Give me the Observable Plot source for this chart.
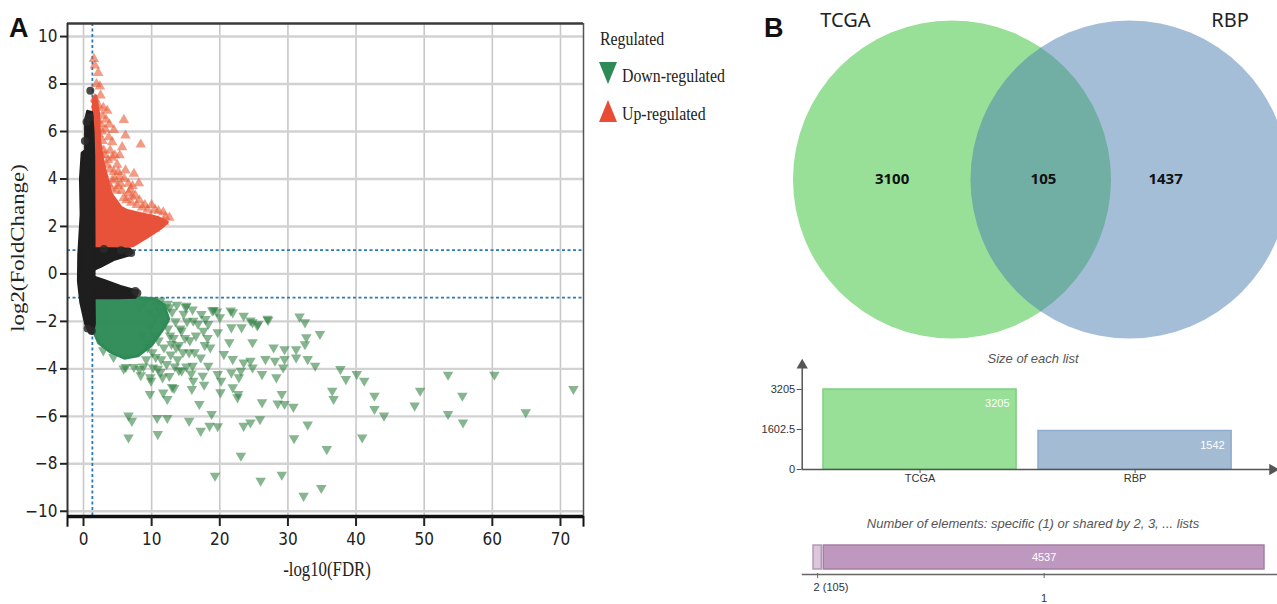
<!DOCTYPE html>
<html><head><meta charset="utf-8">
<script src="https://cdn.jsdelivr.net/npm/d3@7"></script>
<script src="https://cdn.jsdelivr.net/npm/@observablehq/plot@0.6"></script>
<style>
body{margin:0;background:#fff;}
#root{position:relative;width:1277px;height:604px;overflow:hidden;background:#fff;}
.abs{position:absolute;white-space:nowrap;}
</style></head><body><div id="root"></div>
<script>
// ---------------- DATA ----------------
// Panel A: volcano plot
const xTicks = [0,10,20,30,40,50,60,70];
const yTicks = [-10,-8,-6,-4,-2,0,2,4,6,8,10];
const fdrCut = [1.3];
const fcCut = [1,-1];
const regulatedLabels = ["Down-regulated","Up-regulated"];

// dense (overplotted) cores, outlines [-log10FDR, log2FC]
const nsColumn = [[-0.2,5.1],[0.3,5.2],[0.3,6.5],[0.6,6.85],[1.2,6.8],[1.4,6.0],[1.5,5.0],[1.55,1.0],[1.55,-1.0],[1.6,-2.1],[1.3,-2.5],[0.9,-2.45],[0.3,-2.1],[-0.4,-1.2],[-0.75,-0.3],[-0.7,0.8],[-0.35,2.5],[-0.45,4.0]];
const nsUpperWedge = [[0.8,0.1],[2.5,0.32],[4.4,0.6],[6.5,0.78],[7.15,0.9],[6.8,1.04],[4,1.06],[1.5,1.06]];
const nsLowerWedge = [[0.8,-0.06],[3.0,-0.27],[5.4,-0.53],[7.1,-0.66],[7.9,-0.75],[7.6,-0.98],[5,-1.0],[1.5,-1.0]];
const nsPoints = [[1.0,7.72],[0.45,6.4],[0.9,6.6],[0.2,5.6],[6.6,0.92],[7.0,0.88],[7.6,-0.72],[7.9,-0.8],[5.5,1.0],[3.0,1.05],[0.6,-2.3],[1.2,-2.4]];
const upCore = [[1.45,1.0],[1.45,7.4],[1.8,7.5],[2.2,6.8],[2.4,5.5],[2.8,4.8],[4.0,3.4],[5.5,2.8],[6.4,2.67],[8.4,2.54],[10.8,2.39],[12.3,2.18],[11.3,1.92],[9.3,1.55],[7.3,1.2],[5.4,1.08],[3,1.05]];
const downCore = [[1.6,-1.0],[1.6,-2.5],[2.2,-2.9],[4,-3.3],[6,-3.55],[8,-3.45],[10,-3.0],[11.5,-2.4],[12.5,-1.9],[11.8,-1.3],[10.5,-1.05],[8,-1.0]];

// individually visible points
const upPoints = [[1.52,9.06],[1.66,8.78],[2.15,8.47],[2.5,7.52],[1.66,7.38],[5.92,6.49],[2.0,6.46],[2.5,6.32],[4.45,6.06],[6.16,5.83],[3.71,5.76],[4.21,5.55],[5.67,5.34],[8.4,5.45],[2.98,5.2],[4.94,4.6],[6.16,4.36],[7.4,4.22],[4.45,4.29],[8.12,3.82],[6.9,3.55],[4.21,3.94],[5.43,3.80],[7.14,3.25],[11.7,2.6],[12.6,2.37],[9.83,2.39],[8.85,1.69],[3.48,6.88],[2.74,6.67],[3.2,6.1],[2.2,5.9],[3.6,4.8],[5.3,4.1],[6.3,3.1],[4.8,3.5],[9.0,2.9],[10.5,2.7],[7.8,2.9],[11.2,2.1],[9.8,1.8],
[2.8,5.6],[3.1,5.0],[3.4,4.6],[3.9,4.4],[4.2,4.9],[4.6,4.0],[5.0,3.7],[5.6,3.5],[5.9,3.2],[6.6,3.4],[7.0,3.0],[7.6,3.3],[8.2,3.1],[8.6,2.8],[9.4,2.7],[10.0,2.9],[11.0,2.65],[3.0,4.2],[3.6,3.8],[4.1,3.6],[2.6,5.0],[2.3,5.4],[2.7,6.0],[3.9,5.2],[5.1,4.3],[6.0,4.0],[6.6,3.8],[7.2,3.7],[4.6,5.0],[5.3,5.0],[2.2,7.1],[2.9,7.0],[1.9,8.0],[2.4,7.9],[3.3,6.5],[3.8,6.3],[10.3,2.2],[11.8,2.2],[12.0,2.4],[9.0,2.2],[8.0,2.0],[10.5,1.9]];
const downPoints = [[19.1,-1.52],[19.6,-1.58],[21.9,-1.62],[23.5,-1.76],[24.8,-2.04],[25.6,-2.11],[27.1,-1.94],[31.7,-1.80],[32.5,-2.04],[34.7,-2.53],[32.7,-2.67],[32.5,-2.96],[27.9,-3.10],[29.5,-3.17],[31.2,-3.17],[32.9,-3.59],[34.0,-3.87],[37.7,-4.01],[40.1,-4.22],[38.5,-4.43],[41.2,-4.50],[53.5,-4.25],[60.3,-4.25],[71.9,-4.85],[49.4,-4.92],[36.5,-4.92],[36.7,-5.27],[42.7,-5.13],[55.6,-5.13],[42.7,-5.69],[44.1,-5.97],[48.6,-5.55],[53.5,-5.90],[55.7,-6.26],[64.9,-5.83],[40.9,-6.89],[35.7,-7.38],[32.9,-6.35],[30.9,-6.92],[30.8,-5.60],[29.5,-5.48],[28.5,-5.46],[29.1,-5.06],[26.2,-5.41],[25.9,-6.12],[24.5,-6.26],[23.5,-6.40],[23.1,-7.66],[22.7,-5.06],[22.6,-5.20],[21.9,-4.78],[20.1,-4.99],[20.2,-4.50],[18.8,-5.90],[18.5,-6.40],[19.7,-6.42],[17.2,-6.61],[15.5,-6.19],[12.3,-6.07],[10.8,-6.07],[10.9,-6.75],[12.3,-5.27],[13.3,-4.81],[9.75,-5.06],[6.6,-5.97],[7.1,-6.19],[6.6,-6.89],[19.3,-8.50],[26.0,-8.71],[29.1,-8.46],[32.3,-9.35],[34.9,-9.02],[17.0,-5.48],[15.9,-4.85],[17.7,-4.67],
[15.1,-1.34],[12.6,-1.41],[17.3,-1.69],[16.1,-1.97],[18.3,-2.11],[19.7,-2.46],[21.4,-2.88],[23.2,-2.25],[24.8,-2.88],[14.4,-2.39],[13.6,-3.10],[15.5,-3.31],[18.6,-3.10],[17.2,-3.52],[16.0,-3.87],[20.6,-3.38],[21.9,-3.59],[23.5,-3.73],[24.5,-3.66],[26.7,-3.59],[28.3,-4.36],[26.2,-4.22],[23.1,-4.08],[21.7,-4.15],[18.3,-3.87],[19.7,-4.22],[14.4,-4.08],[11.6,-4.36],[9.9,-4.50],[10.2,-3.94],[12.2,-3.80],[8.2,-4.01],[9.4,-3.10],[11.0,-2.81],[12.7,-2.60],[11.9,-2.11],[10.5,-1.83],[9.6,-1.62],[8.2,-1.41],[16.1,-4.50],[17.5,-4.29],[21.7,-2.25],[20.0,-1.83],[29.5,-3.59],[31.2,-3.52],[29.3,-3.94],[24.8,-3.94],[22.8,-4.36],[28.1,-3.66],
[2.9,-3.22],[4.4,-3.5],[6.2,-3.92],[8.4,-4.27],[9.8,-4.35],[11.7,-5.0],[13.0,-4.77],[14.0,-4.06],[11.3,-4.13],[7.4,-3.92],[5.9,-3.99],[11.3,-1.12],[12.3,-1.26],[15.0,-1.4],[14.7,-1.68],[18.9,-1.54],[21.6,-1.54],[24.5,-1.96],[25.5,-2.17],[27.0,-1.89],[13.5,-2.0],[14.0,-3.0],[16.5,-2.6],[17.8,-3.0],[12.8,-3.4],[10.6,-3.5],
[9.0,-1.2],[9.8,-2.2],[10.4,-2.6],[11.2,-1.6],[11.8,-3.1],[12.4,-2.3],[13.0,-1.6],[13.2,-2.7],[13.8,-3.6],[14.6,-3.3],[15.2,-2.0],[15.6,-2.8],[16.3,-3.3],[16.8,-2.1],[17.6,-2.4],[18.2,-2.7],[8.8,-3.9],[9.2,-3.6],[10.9,-4.0],[12.6,-4.3],[13.4,-3.9],[15.1,-3.9],[15.8,-4.2],[8.6,-2.6],[9.4,-2.9],[10.1,-3.3],[11.4,-3.6],[12.9,-2.95],[14.2,-2.3],[14.9,-2.7],[16.0,-1.5],[17.9,-1.9],[13.7,-1.3],[10.8,-1.3]];

// Panel B: Venn
const vennSets = ["TCGA","RBP"];
const vennRegionCounts = [3100,105,1437]; // TCGA only, both, RBP only
// Size of each list
const listNames = ["TCGA","RBP"];
const listSizes = [3205,1542];
const sizeTicks = [0,1602.5,3205];
// Number of elements specific / shared
const sharedLabels = ["2 (105)","1"];
const sharedCounts = [105,4537];

// ---------------- COLOURS ----------------
const cBlack="#1e1e1e", cRed="#e8523a", cRedPt="#ea5a35", cGreen="#2e8b57", cGreenPt="#2f7f3f", cBlue="#2a79b9";
const root = document.getElementById("root");
function place(el,left,top){el.style.position="absolute";el.style.left=left+"px";el.style.top=top+"px";root.appendChild(el);return el;}
function html(str,left,top,css){const d=document.createElement("div");d.className="abs";d.innerHTML=str;d.style.cssText+=css||"";return place(d,left,top);}

// ---------------- PANEL A ----------------
const W=600,H=604, mL=67, mR=17, mT=23, mB=88;
const xDom=[-2.35,73.38], yDom=[-10.22,10.55];
const P = () => ({x:d=>d[0], y:d=>d[1]});
const volcano = Plot.plot({
  width:W, height:H, marginLeft:mL, marginRight:mR, marginTop:mT, marginBottom:mB,
  x:{type:"linear",domain:xDom}, y:{type:"linear",domain:yDom},
  style:{fontFamily:"'DejaVu Sans',sans-serif", fontStretch:"condensed", fontSize:"17px", color:"#222", background:"transparent", overflow:"visible"},
  marks:[
    Plot.gridX(xTicks,{stroke:"#c8c8c8",strokeOpacity:1,strokeWidth:1.6}),
    Plot.gridY(yTicks,{stroke:"#d2d2d2",strokeOpacity:1,strokeWidth:2.4}),
    Plot.ruleY(fcCut,{stroke:cBlue,strokeWidth:1.8,strokeDasharray:"3,2.5"}),
    Plot.ruleX(fdrCut,{stroke:cBlue,strokeWidth:1.8,strokeDasharray:"3,2.5"}),
    Plot.dot(downPoints,{...P(),symbol:"triangle",rotate:180,r:3.9,fill:cGreenPt,fillOpacity:0.58,stroke:"none"}),
    Plot.line(downCore,{...P(),curve:"linear-closed",fill:cGreen,fillOpacity:0.97,stroke:cGreen,strokeWidth:3,strokeLinejoin:"round"}),
    Plot.dot(upPoints,{...P(),symbol:"triangle",r:3.9,fill:cRedPt,fillOpacity:0.6,stroke:"none"}),
    Plot.line(upCore,{...P(),curve:"linear-closed",fill:cRed,stroke:cRed,strokeWidth:3,strokeLinejoin:"round"}),
    Plot.line(nsUpperWedge,{...P(),curve:"linear-closed",fill:cBlack,stroke:cBlack,strokeWidth:3,strokeLinejoin:"round"}),
    Plot.line(nsLowerWedge,{...P(),curve:"linear-closed",fill:cBlack,stroke:cBlack,strokeWidth:3,strokeLinejoin:"round"}),
    Plot.line(nsColumn,{...P(),curve:"linear-closed",fill:cBlack,stroke:cBlack,strokeWidth:3,strokeLinejoin:"round"}),
    Plot.dot(nsPoints,{...P(),r:4,fill:"#2a2a2a",fillOpacity:0.85,stroke:"none"}),
    Plot.ruleY([yDom[1]],{stroke:"#3a3a3a",strokeWidth:2.6}),
    Plot.ruleX([xDom[1]],{stroke:"#555",strokeWidth:1.5}),
    Plot.ruleX([xDom[0]],{stroke:"#333",strokeWidth:2}),
    Plot.ruleY([yDom[0]],{stroke:"#111",strokeWidth:3.5}),
    Plot.ruleX([xDom[0],xDom[1]],{y1:yDom[0],y2:yDom[0]-0.45,stroke:"#111",strokeWidth:2}),
    Plot.axisY(yTicks,{tickSize:7,tickPadding:3,label:null,strokeWidth:2,tickFormat:d=>d<0?"\u2212"+Math.abs(d):String(d)}),
    Plot.axisX(xTicks,{tickSize:10,tickPadding:6,label:null,strokeWidth:2})
  ]
});
place(volcano,0,0);

html("A",9,13,"font:bold 27px 'Liberation Sans',Arial,sans-serif;color:#111;");
html("log2(FoldChange)",18,248,"font:18px 'Liberation Serif',serif;color:#222;transform:translate(-50%,-50%) rotate(-90deg) scaleX(1.27);");
html("-log10(FDR)",327,569,"font:21px 'Liberation Serif',serif;color:#222;transform:translate(-50%,-50%) scaleX(0.8);");
// legend
const legFont = "font:18px 'Liberation Serif',serif;color:#222;transform:scaleX(0.88);transform-origin:left;";
html("Regulated",600,29,legFont);
const legSvg = (pts,col)=>`<svg width="19" height="24" style="display:block"><polygon points="${pts}" fill="${col}"/></svg>`;
html(legSvg("0,1 18,1 9,23",cGreen),599,61,"");
html(regulatedLabels[0],622,66,legFont);
html(legSvg("9,1 18,23 0,23","#ea4b34"),599,99,"");
html(regulatedLabels[1],622,104,legFont);

// ---------------- PANEL B : VENN ----------------
const vW=517,vH=350, R=159, cx0=280.25, cy0=179, half=177.5/2/R;
const venn = Plot.plot({
  width:vW,height:vH,margin:0,
  x:{domain:[-cx0/R,(vW-cx0)/R],axis:null},
  y:{domain:[-(vH-cy0)/R,cy0/R],axis:null},
  r:{type:"identity"},
  style:{background:"transparent"},
  marks:[
    Plot.dot(vennSets,{x:(d,i)=>i===0?-half:half,y:()=>0,r:()=>R,fill:(d,i)=>i===0?"#98df98":"#4a7eb0",stroke:"none",opacity:(d,i)=>i===0?1:0.5}),
    Plot.text(vennSets,{x:(d,i)=>i===0?-1.228:1.19,y:()=>1.0,text:d=>d,fontSize:20,fill:"#222",fontFamily:"'Noto Sans','Open Sans',sans-serif"}),
    Plot.text(vennRegionCounts,{x:(d,i)=>[-0.935,0.017,0.785][i],y:()=>0,text:d=>String(d),fontSize:15,fontWeight:"bold",fill:"#111",fontFamily:"'Noto Sans','Open Sans',sans-serif"})
  ]
});
place(venn,760,0);
html("B",764,13,"font:bold 27px 'Liberation Sans',Arial,sans-serif;color:#111;");

// ---------------- SIZE OF EACH LIST ----------------
html("Size of each list",1033,358,"font:italic 13px 'Liberation Sans',Arial,sans-serif;color:#555;transform:translate(-50%,-50%);");
const bars = listNames.map((n,i)=>({name:n,size:listSizes[i],slot:i}));
const bw=0.898, xMinB=-0.099, xMaxB=2.102;
const yTip = 3205*(129-21.7)/80;
const barFill=["#98df98","#a3bcd4"], barStroke=["#7fcf7f","#8eaccb"];
const sizePlot = Plot.plot({
  width:517,height:160,marginLeft:41.7,marginRight:2,marginTop:49,marginBottom:31,
  x:{domain:[xMinB,xMaxB]}, y:{domain:[0,3205]},
  style:{fontFamily:"'Liberation Sans',Arial,sans-serif",fontSize:"11px",color:"#333",background:"transparent",overflow:"visible"},
  marks:[
    Plot.rectY(bars,{x1:"slot",x2:d=>d.slot+bw,y:"size",fill:(d,i)=>barFill[i],stroke:(d,i)=>barStroke[i],strokeWidth:1.5}),
    Plot.text(bars,{x:d=>d.slot+bw,y:"size",text:d=>String(d.size),dx:-7,dy:14,textAnchor:"end",fill:"#fff",fontSize:11}),
    Plot.ruleX([xMinB],{y1:0,y2:yTip,stroke:"#555",strokeWidth:1.5}),
    Plot.ruleY([0],{x1:xMinB,x2:xMaxB,stroke:"#555",strokeWidth:1.5}),
    Plot.dot([0],{x:()=>xMinB,y:()=>yTip,symbol:"triangle",r:4.2,fill:"#555",dy:3}),
    Plot.dot([0],{x:()=>xMaxB,y:()=>0,symbol:"triangle",rotate:90,r:4.2,fill:"#555",dx:-3}),
    Plot.axisY(sizeTicks,{tickSize:5,tickPadding:2,label:null,tickFormat:d=>String(d),stroke:"#555"}),
    Plot.axisX(bars.map(d=>d.slot+bw/2),{tickSize:4,tickPadding:1,label:null,tickFormat:(d,i)=>listNames[i],stroke:"#555"})
  ]
});
place(sizePlot,760,340);

// ---------------- NUMBER OF ELEMENTS ----------------
html("Number of elements: specific (1) or shared by 2, 3, ... lists",1033,523,"font:italic 13px 'Liberation Sans',Arial,sans-serif;color:#555;transform:translate(-50%,-50%);");
const segs = sharedLabels.map((l,i)=>({label:l,n:sharedCounts[i],start:d3.sum(sharedCounts.slice(0,i))}));
const total = d3.sum(sharedCounts);
const eX0 = -10/(453/total), eX1 = total + 12/(453/total);
const elemPlot = Plot.plot({
  width:517,height:69,marginLeft:42,marginRight:0,marginTop:10,marginBottom:30,
  x:{domain:[eX0,eX1],axis:null},
  style:{fontFamily:"'Liberation Sans',Arial,sans-serif",fontSize:"11px",color:"#333",background:"transparent",overflow:"visible"},
  marks:[
    Plot.rectX(segs,{x1:"start",x2:d=>d.start+d.n,insetLeft:1,insetRight:1,insetBottom:5,fill:(d,i)=>i===0?"#dcc6dc":"#bf98bf",stroke:(d,i)=>i===0?"#b49ab4":"#a47ea5",strokeWidth:1.5}),
    Plot.text(segs.filter(d=>d.n>1000),{x:d=>d.start+d.n/2,frameAnchor:"middle",dy:-3,text:d=>String(d.n),fill:"#fff",fontSize:11}),
    Plot.frame({anchor:"bottom",stroke:"#666",strokeWidth:1.5}),
    Plot.tickX(segs,{x:d=>d.start+d.n/2,stroke:"#666",strokeWidth:1,insetTop:28,insetBottom:-4}),
    Plot.text(segs.slice(0,1),{x:d=>d.start+d.n/2,frameAnchor:"bottom",text:"label",textAnchor:"start",dx:-4,dy:16,fontSize:11,fill:"#333"}),
    Plot.text(segs.slice(1),{x:d=>d.start+d.n/2,frameAnchor:"bottom",text:"label",dy:27,fontSize:11,fill:"#333"})
  ]
});
place(elemPlot,760,535);
</script></body></html>
